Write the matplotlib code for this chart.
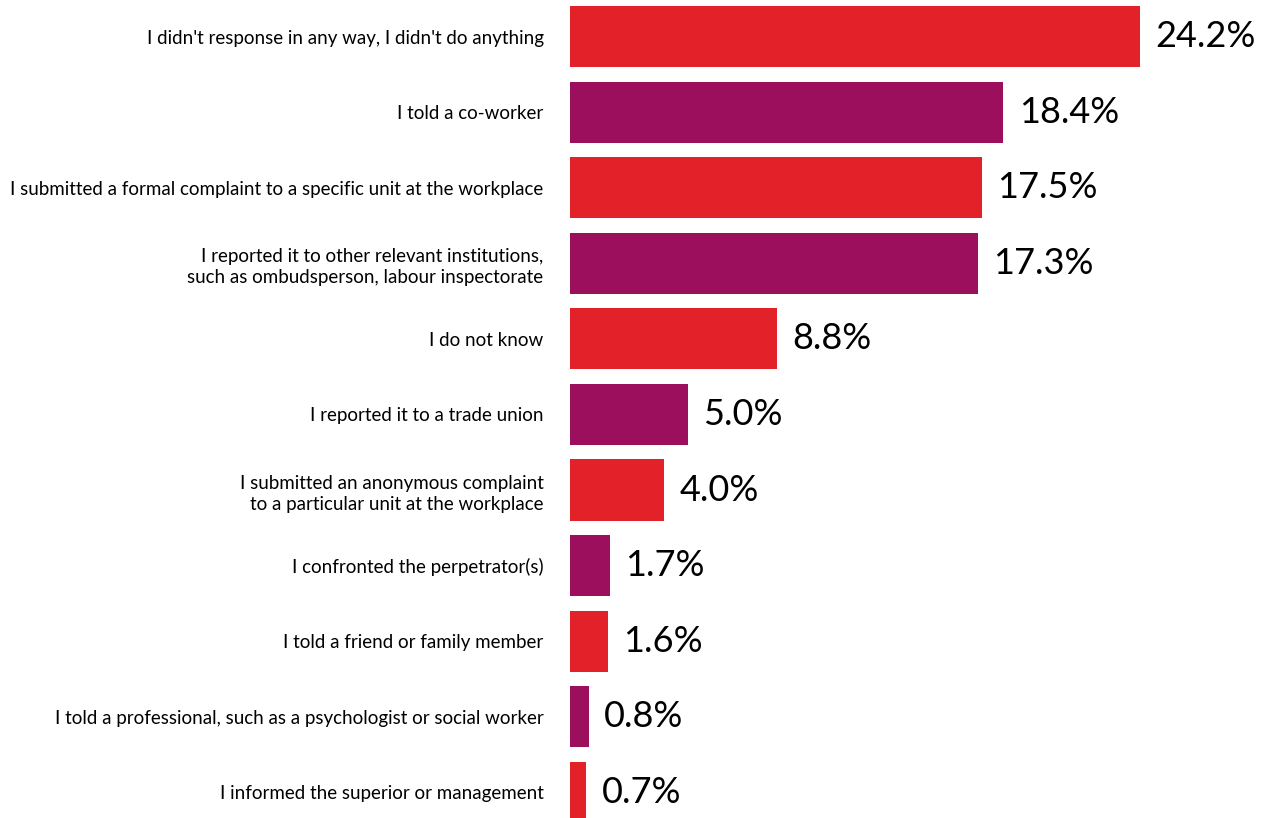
import matplotlib.pyplot as plt
import numpy as np

plt.rcParams['font.family'] = ['Lato', 'DejaVu Sans']

# ответы на вопрос и доли в процентах
responses = [
    "I didn't response in any way, I didn't do anything",
    "I told a co-worker",
    "I submitted a formal complaint to a specific unit at the workplace",
    "I reported it to other relevant institutions,\nsuch as ombudsperson, labour inspectorate",
    "I do not know",
    "I reported it to a trade union",
    "I submitted an anonymous complaint\nto a particular unit at the workplace",
    "I confronted the perpetrator(s)",
    "I told a friend or family member",
    "I told a professional, such as a psychologist or social worker",
    "I informed the superior or management",
]
shares = [24.2, 18.4, 17.5, 17.3, 8.8, 5.0, 4.0, 1.7, 1.6, 0.8, 0.7]

red = '#E32129'
purple = '#9B0F5C'
colors = [red if i % 2 == 0 else purple for i in range(len(shares))]

fig = plt.figure(figsize=(12.63, 8.18), dpi=100)
ax = fig.add_axes([570 / 1263, 0, 1 - 570 / 1263, 1])

pos = np.arange(len(shares))
ax.barh(pos, shares, height=0.81, color=colors)

for p, v in zip(pos, shares):
    ax.annotate(f'{v:.1f}%', (v, p), xytext=(11, 0), textcoords='offset points',
                ha='left', va='center', fontsize=26, color='black')

ax.set_yticks(pos)
ax.set_yticklabels(responses, fontsize=13.5, linespacing=1.3)
ax.tick_params(axis='y', length=0, pad=19)
ax.set_xticks([])
ax.set_xlim(0, 29.42)
ax.set_ylim(10.34, -0.484)
for s in ax.spines.values():
    s.set_visible(False)

fig.savefig('out.png', dpi=100)
